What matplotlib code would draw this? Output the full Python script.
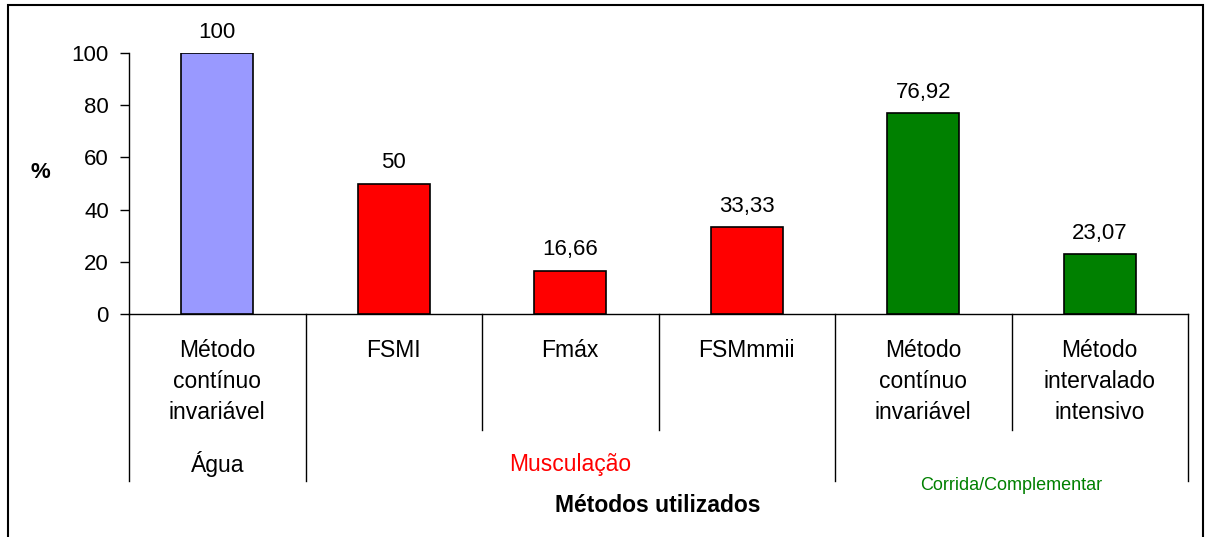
import numpy as np
import matplotlib
matplotlib.use('Agg')
import matplotlib.pyplot as plt
from matplotlib.patches import Rectangle

plt.rcParams['font.family'] = ['Liberation Sans', 'DejaVu Sans']

# Data
categories = ['Método\ncontínuo\ninvariável', 'FSMI', 'Fmáx', 'FSMmmii',
              'Método\ncontínuo\ninvariável', 'Método\nintervalado\nintensivo']
values = [100, 50, 16.66, 33.33, 76.92, 23.07]
bar_colors = ['#9999FF', '#FF0000', '#FF0000', '#FF0000', '#008000', '#008000']
groups = ['Água', 'Musculação', 'Corrida/Complementar']
group_spans = [(0, 0), (1, 3), (4, 5)]
group_colors = ['black', '#FF0000', '#008000']

W, H = 1207, 537
fig = plt.figure(figsize=(W / 100, H / 100), dpi=100)

# axes placed in pixel terms
left, right, top, bottom = 129, 1188, 53, 314
ax = fig.add_axes([left / W, 1 - bottom / H, (right - left) / W, (bottom - top) / H])

x = np.arange(len(values))
ax.bar(x, values, width=0.41, color=bar_colors, edgecolor='black', linewidth=1.2, zorder=3)

for xi, v in zip(x, values):
    ax.annotate(f'{v:g}'.replace('.', ','), (xi, v), xytext=(0, 11), textcoords='offset points',
                ha='center', va='baseline', fontsize=16)

ax.set_xlim(-0.5, len(values) - 0.5)
ax.set_ylim(0, 100)
ax.set_yticks(np.arange(0, 101, 20))
ax.tick_params(axis='y', direction='out', length=6.5, width=1, pad=8, labelsize=16)
ax.set_xticks(x, categories, linespacing=1.44, va='top')
ax.tick_params(axis='x', length=0, pad=18, labelsize=16.5)

for s in ['top', 'right']:
    ax.spines[s].set_visible(False)
ax.spines['left'].set_linewidth(1)
ax.spines['bottom'].set_linewidth(1)

# category separators below the axis
trans = ax.get_xaxis_transform()
ax_h = bottom - top
lvl1 = -(430 - bottom) / ax_h
lvl2 = -(481 - bottom) / ax_h
group_edges = {g[0] - 0.5 for g in group_spans} | {g[1] + 0.5 for g in group_spans}
for b in np.arange(-0.5, len(values)):
    depth = lvl2 if b in group_edges else lvl1
    ax.plot([b, b], [0, depth], color='black', lw=1, transform=trans, clip_on=False)

# group labels
for name, (a, b), c in zip(groups, group_spans, group_colors):
    if name == 'Corrida/Complementar':
        ax.text((a + b) / 2, -(485 - bottom) / ax_h, name, transform=trans, ha='center',
                va='center', fontsize=13, color=c)
    else:
        ax.text((a + b) / 2, -(464 - bottom) / ax_h, name, transform=trans, ha='center',
                va='center', fontsize=16.5, color=c)

fig.text(658 / W, 1 - 506 / H, 'Métodos utilizados', ha='center', va='center',
         fontsize=16.5, fontweight='bold')
fig.text(40 / W, 1 - 172 / H, '%', ha='center', va='center', fontsize=16, fontweight='bold')

# outer frame
fig.patches.append(Rectangle((8 / W, -0.05), (1203 - 8) / W, 1.05 - 5 / H,
                             transform=fig.transFigure, fill=False, edgecolor='black', lw=1.5))

fig.savefig('out.png', dpi=100)
